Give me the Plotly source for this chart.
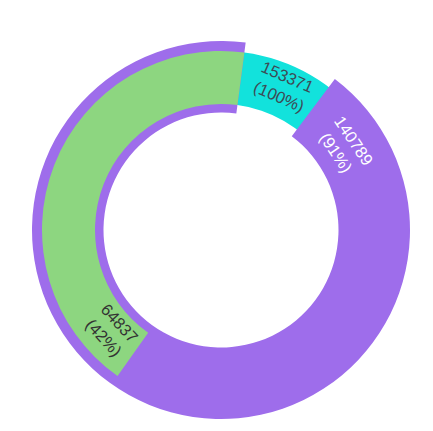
import math
import plotly.graph_objects as go

# rings, drawn back to front
names = ["Stage A", "Stage B", "Stage C"]
values = [153371, 140789, 64837]
colors = ["#12e2dc", "#9e6deb", "#8dd680"]
label_colors = ["#3d4b55", "#ffffff", "#333333"]

W, H = 433, 431
PAGE = 8                   # default body margin of the html page
cx, cy = 221 - PAGE, 230 - PAGE
outer = [179, 189, 179]    # outer radius per ring
inner = [126, 117.5, 126]  # inner radius per ring
start = 7.5                # degrees clockwise from 12 o'clock
label_r = [157, 150, 148]
label_off = [16, 19, 12]   # degrees past the end of each arc

top = max(values)

fig = go.Figure()
for i, v in enumerate(values):
    r = outer[i]
    # counterclockwise pie: the filled arc ends at `start`
    fig.add_trace(go.Pie(
        values=[top - v, v],
        marker=dict(colors=["rgba(0,0,0,0)", colors[i]], line=dict(width=0)),
        hole=inner[i] / r,
        domain=dict(x=[(cx - r) / W, (cx + r) / W],
                    y=[1 - (cy + r) / H, 1 - (cy - r) / H]),
        direction="counterclockwise",
        rotation=start,
        sort=False,
        textinfo="none",
        hoverinfo="skip",
        showlegend=False,
    ))

# labels sit just past the far end of each arc
annotations = []
for i, v in enumerate(values):
    end = (start - 360 * v / top) % 360
    th = end + label_off[i]
    x = cx + label_r[i] * math.sin(math.radians(th))
    y = cy - label_r[i] * math.cos(math.radians(th))
    ang = th if th % 360 < 90 or th % 360 > 270 else th - 180
    pct = int(v / top * 100)
    annotations.append(dict(
        x=x / W, y=1 - y / H, xref="paper", yref="paper",
        text=f"{v}<br>({pct}%)", showarrow=False,
        textangle=ang, xanchor="center", yanchor="middle",
        font=dict(size=16.5, color=label_colors[i],
                  family="Liberation Sans, Arial, sans-serif"),
    ))

fig.update_layout(
    width=W, height=H,
    margin=dict(l=0, r=0, t=0, b=0),
    paper_bgcolor="white",
    plot_bgcolor="white",
    annotations=annotations,
)

fig.write_html("out.html")
